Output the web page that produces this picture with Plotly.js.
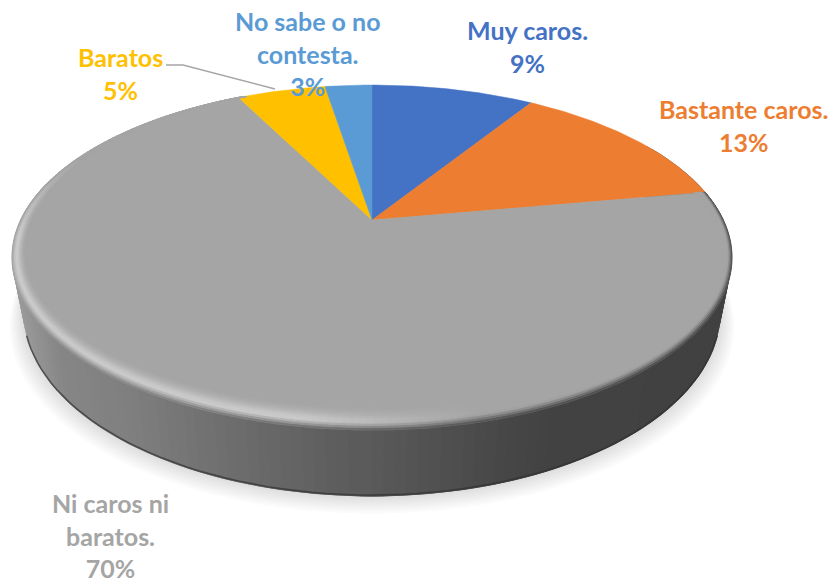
<!DOCTYPE html>
<html><head><meta charset="utf-8">
<script src="https://cdn.plot.ly/plotly-3.0.1.min.js"></script>
<style>html,body{margin:0;padding:0;background:#fff}#c{width:833px;height:583px}</style>
</head><body><div id="c"></div>
<script>
const categories = ["Muy caros.", "Bastante caros.", "Ni caros ni<br>baratos.", "Baratos", "No sabe o no<br>contesta."];
const values = [9, 13.2, 70.3, 4.9, 2.6];
const colors = ["#4472C4", "#ED7D31", "#A5A5A5", "#FFC000", "#5B9BD5"];
const labelX = [527, 743, 110, 120, 308];
const labelY = [46, 125, 535, 73, 53.5];

// perspective disc geometry
const cx = 372, cy = 220, A = 351.4, B = 164.3, p = 0.2174, wallOff = 52, wallS = 0.968;
const total = values.reduce((a, b) => a + b, 0);
const rad = d => d * Math.PI / 180;
function P(th, opt) {
  const o = opt || {};
  let u = Math.sin(th), v = Math.cos(th);
  const bu = o.bu || 0, bv = o.bv || 0;
  u *= (1 - bu);
  const vv = v * (v < 0 ? (1 - bv) : 1);
  const d = 1 + p * vv;
  return [cx + A * (o.s || 1) * u / d, cy + (-B * vv + (o.off || 0)) / d];
}
const traces = [];
function poly(xs, ys, color, lw) {
  traces.push({type: "scatter", mode: "lines", x: xs, y: ys, fill: "toself", fillcolor: color,
    line: {color: color, width: lw}, hoverinfo: "skip", showlegend: false});
}
function addQuad(groups, g, pts) {
  g = Math.round(g);
  if (!groups[g]) groups[g] = {x: [], y: []};
  pts.forEach(q => { groups[g].x.push(q[0]); groups[g].y.push(q[1]); });
  groups[g].x.push(pts[0][0], null); groups[g].y.push(pts[0][1], null);
}
// soft shadow
for (let k = 8; k >= 1; k--) {
  const xs = [], ys = [];
  for (let d = 0; d <= 360; d += 3) {
    const q = P(rad(d), {off: wallOff + 1.7 * k, s: wallS + 0.0048 * k});
    xs.push(q[0]); ys.push(q[1]);
  }
  traces.push({type: "scatter", mode: "lines", x: xs, y: ys, fill: "toself", fillcolor: "rgba(0,0,0,0.014)",
    line: {width: 0}, hoverinfo: "skip", showlegend: false});
}
// wall shade by screen x
const wallStops = [[10, 158], [60, 134], [130, 127], [200, 115], [250, 107], [300, 100], [400, 85], [500, 71], [550, 66], [740, 65]];
function wallGray(x) {
  if (x <= wallStops[0][0]) return wallStops[0][1];
  for (let i = 1; i < wallStops.length; i++) {
    if (x <= wallStops[i][0]) {
      const a = wallStops[i - 1], b = wallStops[i];
      return a[1] + (b[1] - a[1]) * (x - a[0]) / (b[0] - a[0]);
    }
  }
  return wallStops[wallStops.length - 1][1];
}
// wall: overlapping strips painted in order so no seams show
for (let d = 300; d >= 180; d -= 1.5) {
  const a = P(rad(d)), b = P(rad(d - 3)), c = P(rad(d - 3), {off: wallOff, s: wallS}), e = P(rad(d), {off: wallOff, s: wallS});
  const g = Math.round(wallGray((a[0] + b[0]) / 2));
  poly([a[0], b[0], c[0], e[0], a[0]], [a[1], b[1], c[1], e[1], a[1]], `rgb(${g},${g},${g})`, 0);
}
for (let d = 60; d <= 180; d += 1.5) {
  const a = P(rad(d)), b = P(rad(d + 3)), c = P(rad(d + 3), {off: wallOff, s: wallS}), e = P(rad(d), {off: wallOff, s: wallS});
  const g = Math.round(wallGray((a[0] + b[0]) / 2));
  poly([a[0], b[0], c[0], e[0], a[0]], [a[1], b[1], c[1], e[1], a[1]], `rgb(${g},${g},${g})`, 0);
}
// darker lower lip of the wall
{
  const xs = [], ys = [];
  for (let d = 110; d <= 250; d += 2) {
    const q = P(rad(d), {off: wallOff - 1, s: wallS});
    xs.push(q[0]); ys.push(q[1]);
  }
  traces.push({type: "scatter", mode: "lines", x: xs, y: ys, line: {color: "rgba(50,50,50,0.7)", width: 1.6}, hoverinfo: "skip", showlegend: false});
}
// top face slices, from the values
let cum = 0;
const spans = [];
values.forEach((val, i) => {
  const a0 = cum / total * 360, a1 = (cum + val) / total * 360;
  cum += val;
  spans.push([a0, a1]);
  const xs = [cx], ys = [cy];
  for (let d = a0; d < a1; d += 0.5) { const q = P(rad(d)); xs.push(q[0]); ys.push(q[1]); }
  const q = P(rad(a1)); xs.push(q[0], cx); ys.push(q[1], cy);
  traces.push({type: "scatter", mode: "lines", name: categories[i], x: xs, y: ys, fill: "toself", fillcolor: colors[i],
    line: {color: colors[i], width: 0.5}, hoverinfo: "skip", showlegend: false});
});
// bevelled rim on the large slice
const rim = {};
const base = 165, nT = 10;
function shade(x, t, th) {
  const peak = x < 300 ? 205 : (x > 480 ? 165 : 205 - 40 * (x - 300) / 180);
  const w = wallGray(x);
  let g;
  if (t < 0.62) g = base + (peak - base) * Math.pow(t / 0.62, 1.5);
  else g = peak + (w - peak) * Math.pow((t - 0.62) / 0.38, 1.3);
  // upper-left arc: the bevel fades out toward the back of the disc
  const v = Math.cos(th);
  if (x < cx && v > -0.1) {
    const f = Math.max(0, 1 - (v + 0.1) / 0.5);
    g = base + (g - base) * f;
  }
  return g;
}
const [gA, gB] = spans[2];
for (let d = gA; d < gB; d += 1) {
  for (let i = 0; i < nT; i++) {
    const t0 = i / nT, t1 = (i + 1) / nT;
    const o0 = {bu: 0.032 * (1 - t0), bv: 0.085 * (1 - t0)}, o1 = {bu: 0.032 * (1 - t1), bv: 0.085 * (1 - t1)};
    const a = P(rad(d), o0), b = P(rad(d + 1), o0), c = P(rad(d + 1), o1), e = P(rad(d), o1);
    addQuad(rim, shade((a[0] + b[0]) / 2, (t0 + t1) / 2, rad(d + 0.5)), [a, b, c, e]);
  }
}
Object.keys(rim).map(Number).sort((a, b) => a - b).forEach(g => {
  poly(rim[g].x, rim[g].y, `rgb(${g},${g},${g})`, 0.9);
});

const annotations = values.map((val, i) => ({
  x: labelX[i], y: labelY[i], xref: "x", yref: "y", xanchor: "center", yanchor: "middle",
  text: "<b>" + categories[i] + "<br>" + Math.round(val) + "%</b>", showarrow: false, align: "center",
  font: {family: "Lato, 'Open Sans', sans-serif", size: 25, color: colors[i]}
}));
const layout = {
  width: 833, height: 583, margin: {l: 0, r: 0, t: 0, b: 0},
  paper_bgcolor: "#fff", plot_bgcolor: "#fff", showlegend: false, hovermode: false,
  xaxis: {range: [0, 833], visible: false, fixedrange: true},
  yaxis: {range: [583, 0], visible: false, fixedrange: true},
  annotations: annotations,
  shapes: [{type: "path", xref: "x", yref: "y", path: "M166,65 L183,65 L275,89", line: {color: "#A6A6A6", width: 1.5}}]
};
Plotly.newPlot("c", traces, layout, {displayModeBar: false, staticPlot: true});
</script>
</body></html>
